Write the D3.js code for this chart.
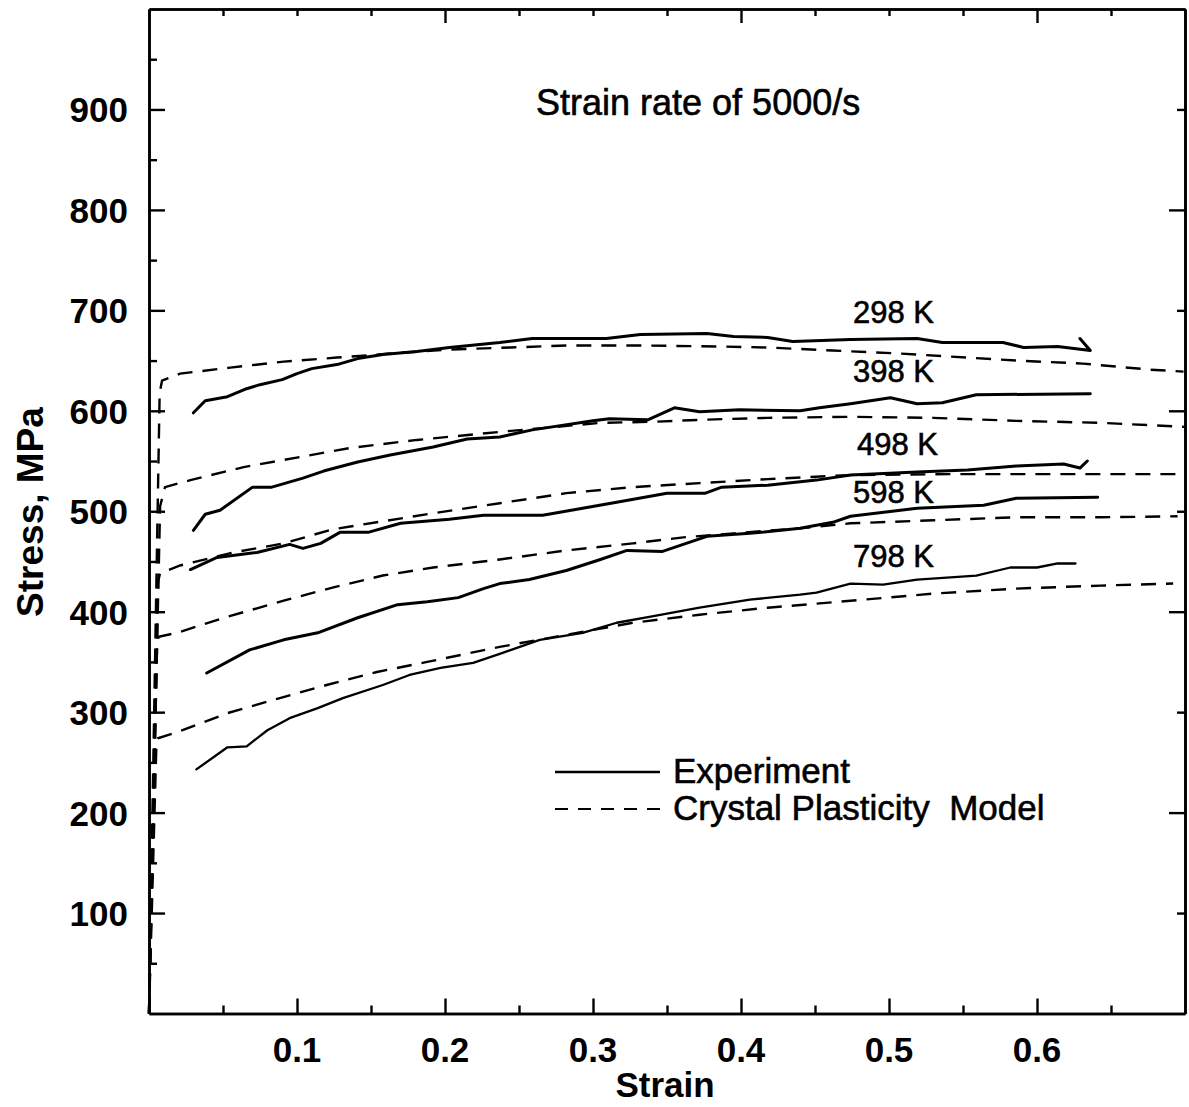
<!DOCTYPE html>
<html>
<head>
<meta charset="utf-8">
<script src="https://cdn.jsdelivr.net/npm/d3@7"></script>
<style>
  html, body { margin: 0; padding: 0; background: #fff; }
  svg { display: block; }
  text { font-family: "Liberation Sans", Arial, Helvetica, sans-serif; fill: #000; }
  text.medium { stroke: #000; stroke-width: 0.6px; }
</style>
</head>
<body>
<svg id="chart" width="1189" height="1107"></svg>
<script>
// Stress–strain curves at a strain rate of 5000/s: [strain, stress (MPa)]
const exp298 = [[0.030,598],[0.038,610],[0.053,614],[0.066,622],[0.075,626],[0.090,631],[0.100,637],[0.110,642],[0.127,646],[0.141,652],[0.158,656],[0.181,659],[0.203,663],[0.237,668],[0.259,672],[0.309,672],[0.332,676],[0.377,677],[0.395,674],[0.418,673],[0.435,669],[0.474,671],[0.519,672],[0.536,668],[0.577,668],[0.591,663],[0.614,664],[0.636,660],[0.629,672]];
const exp398 = [[0.030,481],[0.038,497],[0.048,501],[0.070,524],[0.083,524],[0.104,533],[0.118,540],[0.141,549],[0.163,556],[0.192,564],[0.215,572],[0.237,574],[0.259,581],[0.300,590],[0.311,592],[0.337,591],[0.355,603],[0.372,599],[0.399,601],[0.440,600],[0.453,603],[0.474,607],[0.501,613],[0.519,607],[0.536,608],[0.559,616],[0.636,617]];
const exp498 = [[0.028,442],[0.046,454],[0.073,459],[0.095,467],[0.104,463],[0.116,468],[0.129,479],[0.148,479],[0.170,488],[0.203,492],[0.226,496],[0.266,496],[0.293,503],[0.316,509],[0.350,518],[0.376,518],[0.387,524],[0.418,526],[0.451,531],[0.474,536],[0.519,539],[0.553,541],[0.586,545],[0.618,547],[0.629,543],[0.634,550]];
const exp598 = [[0.039,339],[0.068,362],[0.091,372],[0.114,379],[0.141,394],[0.168,407],[0.188,410],[0.209,414],[0.226,423],[0.237,428],[0.257,432],[0.282,441],[0.305,452],[0.323,461],[0.347,460],[0.361,467],[0.377,475],[0.406,478],[0.440,483],[0.462,489],[0.474,495],[0.519,503],[0.564,506],[0.586,513],[0.641,514]];
const exp798 = [[0.032,243],[0.053,265],[0.066,266],[0.080,282],[0.095,294],[0.114,304],[0.131,314],[0.158,327],[0.176,337],[0.197,344],[0.219,349],[0.237,358],[0.264,372],[0.293,379],[0.316,389],[0.339,395],[0.372,404],[0.406,412],[0.440,417],[0.451,419],[0.474,428],[0.496,427],[0.519,432],[0.559,436],[0.582,444],[0.600,444],[0.614,448],[0.626,448]];

const model298 = [[0,0],[0.0072,618],[0.0088,630],[0.021,637],[0.055,643],[0.091,649],[0.127,653],[0.163,657],[0.203,661],[0.244,663],[0.282,665],[0.334,665],[0.386,664],[0.418,663],[0.462,660],[0.507,657],[0.541,654],[0.586,650],[0.631,647],[0.676,641],[0.699,639]];
const model398 = [[0,0],[0.0075,505],[0.0108,524],[0.028,531],[0.064,544],[0.102,554],[0.136,563],[0.181,571],[0.237,579],[0.305,588],[0.339,589],[0.372,591],[0.418,593],[0.474,594],[0.530,593],[0.586,590],[0.643,588],[0.700,584]];
const model498 = [[0,0],[0.0062,430],[0.0074,438],[0.021,446],[0.057,459],[0.091,468],[0.124,482],[0.158,490],[0.192,498],[0.237,508],[0.282,518],[0.327,524],[0.372,528],[0.418,532],[0.474,536],[0.541,537],[0.609,537],[0.699,537]];
const model598 = [[0,0],[0.0055,368],[0.0065,375],[0.019,379],[0.053,395],[0.091,411],[0.124,424],[0.158,436],[0.192,444],[0.237,452],[0.282,461],[0.327,468],[0.361,474],[0.395,478],[0.440,483],[0.474,488],[0.530,491],[0.586,494],[0.643,494],[0.695,495]];
const model798 = [[0,0],[0.005,268],[0.006,274],[0.019,280],[0.053,299],[0.086,313],[0.120,327],[0.154,340],[0.188,350],[0.237,365],[0.282,377],[0.327,389],[0.372,397],[0.418,404],[0.467,410],[0.530,418],[0.586,423],[0.643,426],[0.692,428]];

const temperatures = ["298 K", "398 K", "498 K", "598 K", "798 K"];
const strainTicks = [0.1, 0.2, 0.3, 0.4, 0.5, 0.6];
const stressTicks = [100, 200, 300, 400, 500, 600, 700, 800, 900];
const legendLabels = ["Experiment", "Crystal Plasticity  Model"];
const titleText = "Strain rate of 5000/s";

const svg = d3.select("#chart");
const plotLeft = 149, plotRight = 1185, plotTop = 9, plotBottom = 1013.5;

const x = d3.scaleLinear().domain([0, 0.7]).range([plotLeft, plotRight]);
const y = d3.scaleLinear().domain([0, 1000]).range([plotBottom, plotTop]);

const line = d3.line().x(d => x(d[0])).y(d => y(d[1]));

// model curves (dashed)
const models = [model298, model398, model498, model598, model798];
svg.append("g").selectAll("path").data(models).join("path")
  .attr("d", line)
  .attr("fill", "none")
  .attr("stroke", "#000")
  .attr("stroke-width", 2.4)
  .attr("stroke-dasharray", "15,10");

// experimental curves (solid)
const experiments = [exp298, exp398, exp498, exp598, exp798];
svg.append("g").selectAll("path").data(experiments).join("path")
  .attr("d", line)
  .attr("fill", "none")
  .attr("stroke", "#000")
  .attr("stroke-width", (d, i) => i === 4 ? 2.3 : 3)
  .attr("stroke-linejoin", "round")
  .attr("stroke-linecap", "round");

// axes with inward ticks on all four sides
function styleAxis(g) {
  g.selectAll(".domain").attr("stroke", "#000").attr("stroke-width", 2.6);
  g.selectAll(".tick line").attr("stroke", "#000").attr("stroke-width", 2.4);
  g.selectAll(".tick text").remove();
}
const steps = (a, b, s) => d3.range(a, b + 1e-9, s).map(v => +v.toFixed(3));
const longTop = [0.2, 0.4, 0.6];

svg.append("g").attr("transform", `translate(0,${plotBottom})`)
  .call(d3.axisBottom(x).tickValues(steps(0.05, 0.65, 0.1)).tickSize(-8).tickSizeOuter(0)).call(styleAxis);
svg.append("g").attr("transform", `translate(0,${plotBottom})`)
  .call(d3.axisBottom(x).tickValues(strainTicks).tickSize(-15).tickSizeOuter(0)).call(styleAxis);

svg.append("g").attr("transform", `translate(0,${plotTop})`)
  .call(d3.axisTop(x).tickValues(steps(0.05, 0.65, 0.05).filter(v => !longTop.includes(v))).tickSize(-7).tickSizeOuter(0)).call(styleAxis);
svg.append("g").attr("transform", `translate(0,${plotTop})`)
  .call(d3.axisTop(x).tickValues(longTop).tickSize(-14).tickSizeOuter(0)).call(styleAxis);

svg.append("g").attr("transform", `translate(${plotLeft},0)`)
  .call(d3.axisLeft(y).tickValues(steps(50, 950, 100)).tickSize(-8).tickSizeOuter(0)).call(styleAxis);
svg.append("g").attr("transform", `translate(${plotLeft},0)`)
  .call(d3.axisLeft(y).tickValues(stressTicks).tickSize(-16).tickSizeOuter(0)).call(styleAxis);

svg.append("g").attr("transform", `translate(${plotRight},0)`)
  .call(d3.axisRight(y).tickValues([100, 300, 500, 700, 900]).tickSize(-8).tickSizeOuter(0)).call(styleAxis);
svg.append("g").attr("transform", `translate(${plotRight},0)`)
  .call(d3.axisRight(y).tickValues([200, 400, 600, 800]).tickSize(-16).tickSizeOuter(0)).call(styleAxis);

// tick labels
svg.append("g").selectAll("text").data(strainTicks).join("text")
  .attr("x", d => x(d)).attr("y", 1062)
  .attr("text-anchor", "middle")
  .attr("font-size", 35).attr("font-weight", "bold")
  .text(d => d3.format(".1f")(d));

svg.append("g").selectAll("text").data(stressTicks).join("text")
  .attr("x", 128).attr("y", d => y(d) + 13)
  .attr("text-anchor", "end")
  .attr("font-size", 35).attr("font-weight", "bold")
  .text(d => d);

// axis titles
svg.append("text")
  .attr("x", 665).attr("y", 1097)
  .attr("text-anchor", "middle")
  .attr("font-size", 35).attr("font-weight", "bold")
  .text("Strain");

svg.append("text")
  .attr("transform", `translate(43,512) rotate(-90)`)
  .attr("text-anchor", "middle")
  .attr("font-size", 37).attr("font-weight", "bold")
  .text("Stress, MPa");

// title
svg.append("text")
  .attr("class", "medium")
  .attr("x", 536).attr("y", 115)
  .attr("font-size", 36)
  .text(titleText);

// temperature labels
const labelAnchor = { strain: 0.503, baselines: [323, 382, 455, 503, 567] };
svg.append("g").selectAll("text").data(temperatures).join("text")
  .attr("class", "medium")
  .attr("x", (d, i) => x(labelAnchor.strain) + (i === 2 ? 4 : 0))
  .attr("y", (d, i) => labelAnchor.baselines[i])
  .attr("text-anchor", "middle")
  .attr("font-size", 31)
  .text(d => d);

// legend
const legend = svg.append("g");
legend.append("line").attr("x1", 555).attr("x2", 660).attr("y1", 772).attr("y2", 772)
  .attr("stroke", "#000").attr("stroke-width", 2.6);
legend.append("line").attr("x1", 555).attr("x2", 660).attr("y1", 809).attr("y2", 809)
  .attr("stroke", "#000").attr("stroke-width", 2).attr("stroke-dasharray", "13,10");
legend.selectAll("text").data(legendLabels).join("text")
  .attr("class", "medium")
  .attr("x", 673).attr("y", (d, i) => 783 + i * 37)
  .attr("font-size", 35)
  .attr("xml:space", "preserve")
  .style("white-space", "pre")
  .text(d => d);
</script>
</body>
</html>
